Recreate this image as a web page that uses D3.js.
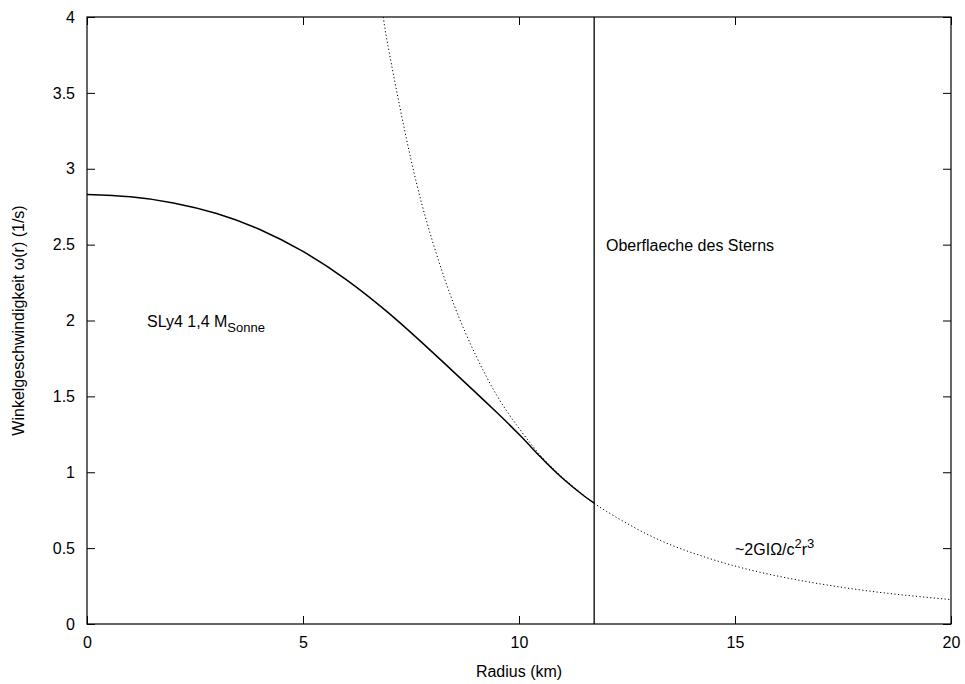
<!DOCTYPE html>
<html><head><meta charset="utf-8">
<script src="https://cdn.jsdelivr.net/npm/d3@7"></script>
<style>body{margin:0;background:#fff}svg{display:block}text{font-family:"Liberation Sans",Arial,sans-serif;fill:#000}</style>
</head><body><svg id="c" width="965" height="684"></svg>
<script>
const xTicks = [0, 5, 10, 15, 20];
const yTicks = [0, 0.5, 1, 1.5, 2, 2.5, 3, 3.5, 4];
const yTickLabels = ["0", "0.5", "1", "1.5", "2", "2.5", "3", "3.5", "4"];
// solid curve: SLy4 1,4 M_Sonne (radius km, omega 1/s)
const starR = [0, 1, 2, 3, 4, 5, 6, 7, 8, 9, 9.5, 10, 10.5, 11, 11.5, 11.74];
const starW = [2.83, 2.815, 2.775, 2.705, 2.60, 2.455, 2.27, 2.045, 1.79, 1.525, 1.39, 1.25, 1.10, 0.962, 0.845, 0.797];
// dotted curve ~2GIΩ/c²r³
const farR = [6.86, 7, 7.5, 8, 8.5, 9, 9.5, 10, 10.5, 11, 11.5, 12, 13, 14, 15, 16, 17, 18, 19, 20];
const farW = [4.0, 3.76, 3.06, 2.52, 2.10, 1.77, 1.50, 1.29, 1.11, 0.969, 0.848, 0.747, 0.587, 0.470, 0.382, 0.315, 0.263, 0.221, 0.188, 0.161];
const surfaceR = 11.74;

const svg = d3.select("#c");
const L = 87, R = 951, T = 17, B = 624;
const x = d3.scaleLinear().domain([0, 20]).range([L, R]);
const y = d3.scaleLinear().domain([0, 4]).range([B, T]);

svg.append("g").attr("transform", `translate(0,${B})`)
  .call(d3.axisBottom(x).tickValues(xTicks).tickSize(-8).tickPadding(13).tickFormat(d3.format("d")))
  .call(g => g.select(".domain").remove());
svg.append("g").attr("transform", `translate(0,${T})`)
  .call(d3.axisTop(x).tickValues(xTicks).tickSize(-8).tickFormat(""))
  .call(g => g.select(".domain").remove());
svg.append("g").attr("transform", `translate(${L},0)`)
  .call(d3.axisLeft(y).tickValues(yTicks).tickSize(-8).tickPadding(12).tickFormat((d, i) => yTickLabels[i]))
  .call(g => g.select(".domain").remove());
svg.append("g").attr("transform", `translate(${R},0)`)
  .call(d3.axisRight(y).tickValues(yTicks).tickSize(-8).tickFormat(""))
  .call(g => g.select(".domain").remove());
svg.selectAll(".tick line").attr("stroke", "#000").attr("stroke-width", 1);
svg.selectAll(".tick text").attr("font-size", 16).attr("font-family", "Liberation Sans, Arial, sans-serif").attr("fill", "#000");

svg.append("rect").attr("x", L).attr("y", T).attr("width", R - L).attr("height", B - T)
  .attr("fill", "none").attr("stroke", "#000").attr("stroke-width", 1.2);

const line = d3.line().x(d => x(d[0])).y(d => y(d[1])).curve(d3.curveNatural);
svg.append("clipPath").attr("id", "pc").append("rect").attr("x", L).attr("y", T).attr("width", R - L).attr("height", B - T);

svg.append("path").datum(farR.map((r, i) => [r, farW[i]])).attr("d", line)
  .attr("fill", "none").attr("stroke", "#000").attr("stroke-width", 1).attr("stroke-dasharray", "1.2,2.4")
  .attr("clip-path", "url(#pc)");
svg.append("path").datum(starR.map((r, i) => [r, starW[i]])).attr("d", line)
  .attr("fill", "none").attr("stroke", "#000").attr("stroke-width", 1.5);

svg.append("line").attr("x1", x(surfaceR)).attr("x2", x(surfaceR)).attr("y1", y(0)).attr("y2", y(4))
  .attr("stroke", "#000").attr("stroke-width", 1.3);

svg.append("text").attr("x", (L + R) / 2).attr("y", 677).attr("text-anchor", "middle").attr("font-size", 16).text("Radius (km)");
svg.append("text").attr("transform", `translate(24,${(T + B) / 2}) rotate(-90)`).attr("text-anchor", "middle").attr("font-size", 16).text("Winkelgeschwindigkeit ω(r) (1/s)");

svg.append("text").attr("x", 606).attr("y", 251).attr("font-size", 16).text("Oberflaeche des Sterns");

const t1 = svg.append("text").attr("x", 147).attr("y", 327).attr("font-size", 16);
t1.append("tspan").text("SLy4 1,4 M");
t1.append("tspan").attr("dy", 5).attr("font-size", 13).text("Sonne");

const t2 = svg.append("text").attr("x", 735).attr("y", 555).attr("font-size", 16);
t2.append("tspan").text("~2GIΩ/c");
t2.append("tspan").attr("dy", -7).attr("font-size", 13).text("2");
t2.append("tspan").attr("dy", 7).text("r");
t2.append("tspan").attr("dy", -7).attr("font-size", 13).text("3");
</script></body></html>
